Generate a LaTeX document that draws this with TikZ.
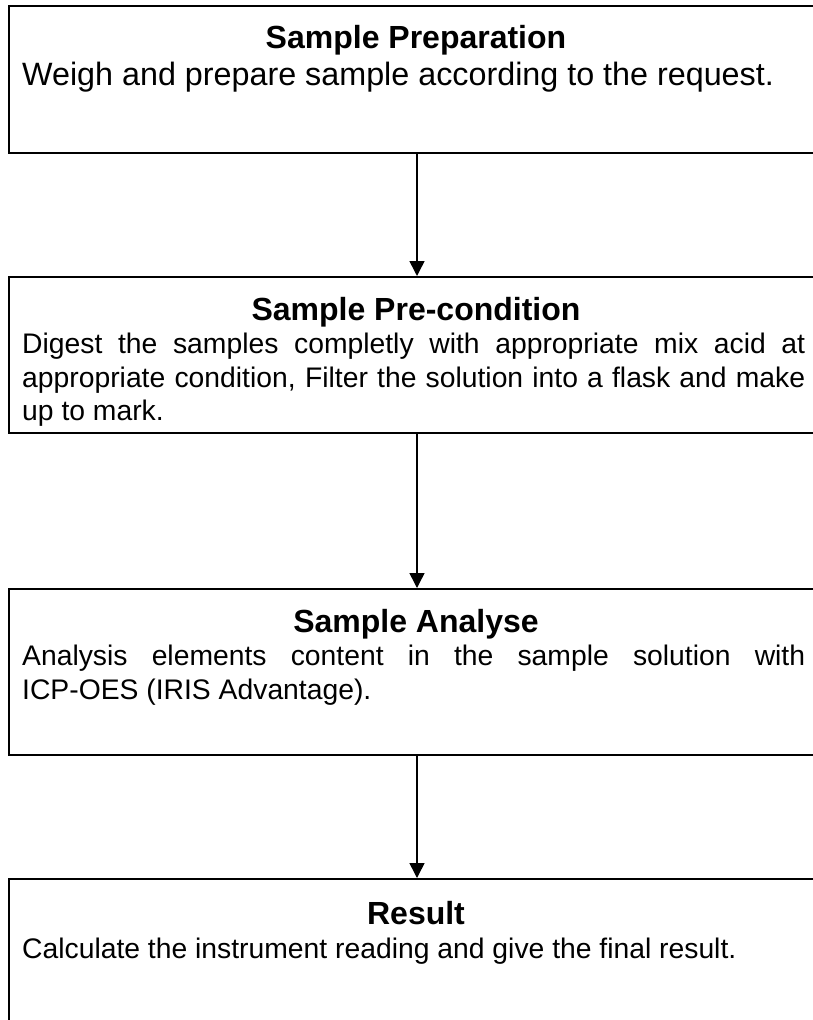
\documentclass[tikz,border=0pt]{standalone}
\usepackage{fontspec}
\setmainfont{Liberation Sans}
\usetikzlibrary{arrows.meta}
\begin{document}
\begin{tikzpicture}[x=1pt,y=1pt,
  stagebox/.style={draw, line width=1.6pt, rectangle, anchor=north west, minimum width=830pt, inner sep=0pt},
  ttl/.style={font=\fontsize{32}{36}\selectfont\bfseries, anchor=base, inner sep=0pt},
  bodybig/.style={font=\fontsize{32.3}{37}\selectfont, anchor=base west, inner sep=0pt},
  bodytxt/.style={font=\fontsize{28.3}{33.7}\selectfont, anchor=base west, inner sep=0pt},
  flow/.style={line width=1.5pt, -{Triangle[width=15pt,length=15pt]}}]
\clip (0,0) rectangle (813,-1020);
\fill[white] (0,0) rectangle (813,-1020);
% boxes
\node[stagebox, minimum height=147pt] (b1) at (8,-5) {};
\node[stagebox, minimum height=156pt] (b2) at (8,-276) {};
\node[stagebox, minimum height=166pt] (b3) at (8,-588) {};
\node[stagebox, minimum height=180pt] (b4) at (8,-878) {};
% box 1
\node[ttl] (t1) at (416,-48) {Sample Preparation};
\node[bodybig] (l11) at (22,-85) {Weigh and prepare sample according to the request.};
% box 2
\node[ttl] (t2) at (416,-320) {Sample Pre-condition};
\node[bodytxt] (l21) at (22,-353) {\makebox[783pt][s]{Digest the samples completly with appropriate mix acid at}};
\node[bodytxt] (l22) at (22,-387) {\makebox[783pt][s]{appropriate condition, Filter the solution into a flask and make}};
\node[bodytxt] (l23) at (22,-420) {up to mark.};
% box 3
\node[ttl] (t3) at (416,-632) {Sample Analyse};
\node[bodytxt] (l31) at (22,-665) {\makebox[783pt][s]{Analysis elements content in the sample solution with}};
\node[bodytxt] (l32) at (22,-699) {ICP-OES (IRIS Advantage).};
% box 4
\node[ttl] (t4) at (416,-924) {Result};
\node[bodytxt] (l41) at (22,-958) {Calculate the instrument reading and give the final result.};
% arrows
\coordinate (ax) at (417,0);
\draw[flow] (b1.south -| ax) -- (b2.north -| ax);
\draw[flow] (b2.south -| ax) -- (b3.north -| ax);
\draw[flow] (b3.south -| ax) -- (b4.north -| ax);
\end{tikzpicture}
\end{document}
